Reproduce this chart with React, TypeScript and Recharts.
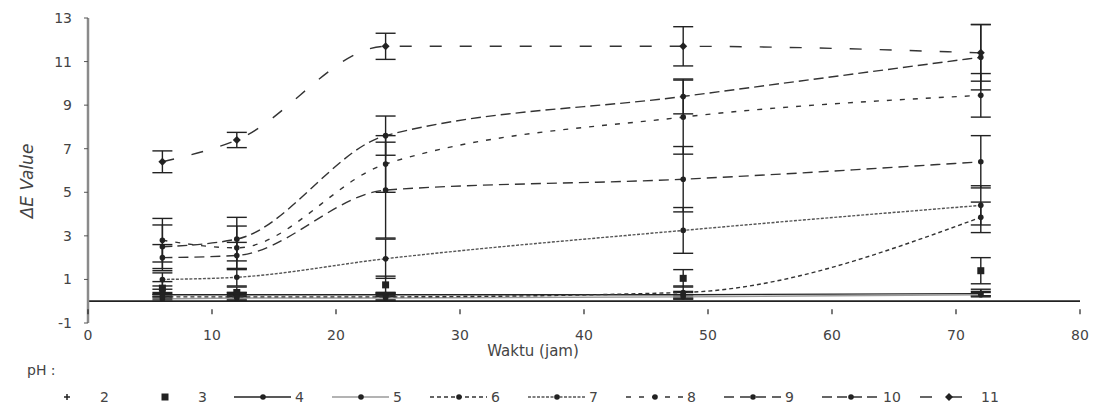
import React from "react";
import { LineChart, Line, XAxis, YAxis, ErrorBar, ReferenceLine } from "recharts";

// sampling times (jam)
const times = [6, 12, 24, 48, 72];

const xTicks = [0, 10, 20, 30, 40, 50, 60, 70, 80];
const yTicks = [-1, 1, 3, 5, 7, 9, 11, 13];

// ΔE means per pH
const ph2 = [0.45, 0.3, 0.3, 0.3, 0.4];
const ph3 = [0.6, 0.4, 0.75, 1.05, 1.4];
const ph4 = [0.3, 0.3, 0.3, 0.3, 0.35];
const ph5 = [0.1, 0.15, 0.15, 0.2, 0.3];
const ph6 = [0.2, 0.2, 0.2, 0.4, 3.85];
const ph7 = [1.0, 1.1, 1.95, 3.25, 4.4];
const ph8 = [2.8, 2.45, 6.3, 8.45, 9.45];
const ph9 = [2.0, 2.1, 5.1, 5.6, 6.4];
const ph10 = [2.5, 2.85, 7.6, 9.4, 11.2];
const ph11 = [6.4, 7.4, 11.7, 11.7, 11.4];

// standard deviations
const ph2Err = [0.1, 0.1, 0.1, 0.15, 0.15];
const ph3Err = [0.3, 0.25, 0.4, 0.4, 0.6];
const ph4Err = [0.1, 0.1, 0.1, 0.1, 0.1];
const ph5Err = [0.1, 0.1, 0.1, 0.1, 0.1];
const ph6Err = [0.1, 0.15, 0.15, 0.3, 0.7];
const ph7Err = [0.3, 0.4, 0.9, 1.05, 0.9];
const ph8Err = [1.0, 1.0, 1.3, 1.7, 1.0];
const ph9Err = [0.6, 0.6, 2.2, 1.5, 1.2];
const ph10Err = [1.0, 1.0, 0.9, 0.8, 1.5];
const ph11Err = [0.5, 0.35, 0.6, 0.9, 1.3];

const W = 1093;
const H = 407;
const M = { top: 18, right: 13, left: 0, bottom: 0 };
const X_AXIS_H = 84;
const PLOT_H = H - M.top - M.bottom - X_AXIS_H;

const INK = "#222";
const TXT = "#444";
const FONT = "'DejaVu Sans', Verdana, sans-serif";

type Dot = "plus" | "square" | "dot" | "diamond";

const series: {
  key: string;
  name: string;
  values: number[];
  err: number[];
  stroke: string;
  dash?: string;
  dot: Dot;
}[] = [
  { key: "ph2", name: "2", values: ph2, err: ph2Err, stroke: "none", dot: "plus" },
  { key: "ph3", name: "3", values: ph3, err: ph3Err, stroke: "none", dot: "square" },
  { key: "ph4", name: "4", values: ph4, err: ph4Err, stroke: INK, dot: "dot" },
  { key: "ph5", name: "5", values: ph5, err: ph5Err, stroke: "#9a9a9a", dot: "dot" },
  { key: "ph6", name: "6", values: ph6, err: ph6Err, stroke: "#333", dash: "4 3", dot: "dot" },
  { key: "ph7", name: "7", values: ph7, err: ph7Err, stroke: "#555", dash: "3 1.5", dot: "dot" },
  { key: "ph8", name: "8", values: ph8, err: ph8Err, stroke: "#333", dash: "5 8", dot: "dot" },
  { key: "ph9", name: "9", values: ph9, err: ph9Err, stroke: "#333", dash: "10 6", dot: "dot" },
  { key: "ph10", name: "10", values: ph10, err: ph10Err, stroke: "#333", dash: "10 5", dot: "dot" },
  { key: "ph11", name: "11", values: ph11, err: ph11Err, stroke: "#333", dash: "12 18", dot: "diamond" },
];

const data = times.map((t, i) => {
  const row: Record<string, number> = { t };
  series.forEach((s) => {
    row[s.key] = s.values[i];
    row[s.key + "Err"] = s.err[i];
  });
  return row;
});

function marker(kind: Dot, cx: number, cy: number, key?: React.Key) {
  if (kind === "plus") {
    return (
      <g key={key}>
        <line x1={cx - 3} x2={cx + 3} y1={cy} y2={cy} stroke={INK} strokeWidth={1.5} />
        <line x1={cx} x2={cx} y1={cy - 3} y2={cy + 3} stroke={INK} strokeWidth={1.5} />
      </g>
    );
  }
  if (kind === "square") {
    return <rect key={key} x={cx - 3.5} y={cy - 3.5} width={7} height={7} fill={INK} />;
  }
  if (kind === "diamond") {
    return (
      <path
        key={key}
        d={`M${cx},${cy - 4}L${cx + 4},${cy}L${cx},${cy + 4}L${cx - 4},${cy}Z`}
        fill={INK}
      />
    );
  }
  return <circle key={key} cx={cx} cy={cy} r={2.8} fill={INK} />;
}

const XTick = (props: any) => {
  const { x, y, payload } = props;
  const zeroY = y - PLOT_H / 14;
  return (
    <g>
      <line x1={x} x2={x} y1={zeroY} y2={zeroY + 5} stroke={INK} strokeWidth={1.2} />
      <text x={x} y={y + 9} textAnchor="middle" fontSize={14} fill={TXT} fontFamily={FONT}>
        {payload.value}
      </text>
    </g>
  );
};

const YLabel = () => (
  <text
    x={27}
    y={181}
    transform="rotate(-90 27 181)"
    textAnchor="middle"
    dominantBaseline="central"
    fontSize={17}
    fontStyle="italic"
    fill={TXT}
    fontFamily={FONT}
  >
    ΔE Value
  </text>
);

function LegendRow() {
  const rowY = 397;
  return (
    <svg
      width={W}
      height={60}
      style={{ position: "absolute", left: 0, top: 350 }}
      viewBox={`0 350 ${W} 60`}
    >
      <text x={27} y={375} fontSize={14} fill={TXT} fontFamily={FONT}>
        pH :
      </text>
      {series.map((s, i) => {
        const cx = 67 + i * 98;
        const hasLine = s.stroke !== "none";
        return (
          <g key={s.key}>
            {hasLine && (
              <line
                x1={cx - 29}
                x2={cx + 28}
                y1={rowY}
                y2={rowY}
                stroke={s.stroke}
                strokeWidth={1.5}
                strokeDasharray={s.dash}
              />
            )}
            {marker(s.dot, cx, rowY)}
            <text
              x={cx + (hasLine ? 32 : 33)}
              y={rowY + 5}
              fontSize={14}
              fill={TXT}
              fontFamily={FONT}
            >
              {s.name}
            </text>
          </g>
        );
      })}
    </svg>
  );
}

export default function App() {
  return (
    <div style={{ position: "fixed", left: 0, top: 0, width: W, height: H, background: "#fff" }}>
      <LineChart width={W} height={H} data={data} margin={M}>
        <XAxis
          dataKey="t"
          type="number"
          domain={[0, 80]}
          ticks={xTicks}
          height={X_AXIS_H}
          axisLine={false}
          tickLine={false}
          tick={<XTick />}
          interval={0}
        />
        <YAxis
          type="number"
          domain={[-1, 13]}
          ticks={yTicks}
          width={88}
          interval={0}
          axisLine={{ stroke: "#8a8a8a", strokeWidth: 2.5 }}
          tickLine={{ stroke: "#555" }}
          tickSize={4}
          tickMargin={12}
          tick={{ fontSize: 14, fill: TXT, fontFamily: FONT }}
          label={<YLabel />}
        />
        <ReferenceLine y={0} stroke={INK} strokeWidth={1.8} ifOverflow="extendDomain" />
        {series.map((s) => (
          <Line
            key={s.key}
            dataKey={s.key}
            type="monotone"
            stroke={s.stroke}
            strokeWidth={1.4}
            strokeDasharray={s.dash}
            isAnimationActive={false}
            dot={(p: any) => marker(s.dot, p.cx, p.cy, `${s.key}-${p.index}`)}
            activeDot={false}
          >
            <ErrorBar
              dataKey={s.key + "Err"}
              direction="y"
              width={10}
              stroke={INK}
              strokeWidth={1.4}
              isAnimationActive={false}
            />
          </Line>
        ))}
      </LineChart>
      <div
        style={{
          position: "absolute",
          left: 533,
          top: 342,
          transform: "translateX(-50%)",
          fontSize: 15,
          color: TXT,
          fontFamily: FONT,
          whiteSpace: "nowrap",
        }}
      >
        Waktu (jam)
      </div>
      <LegendRow />
    </div>
  );
}
